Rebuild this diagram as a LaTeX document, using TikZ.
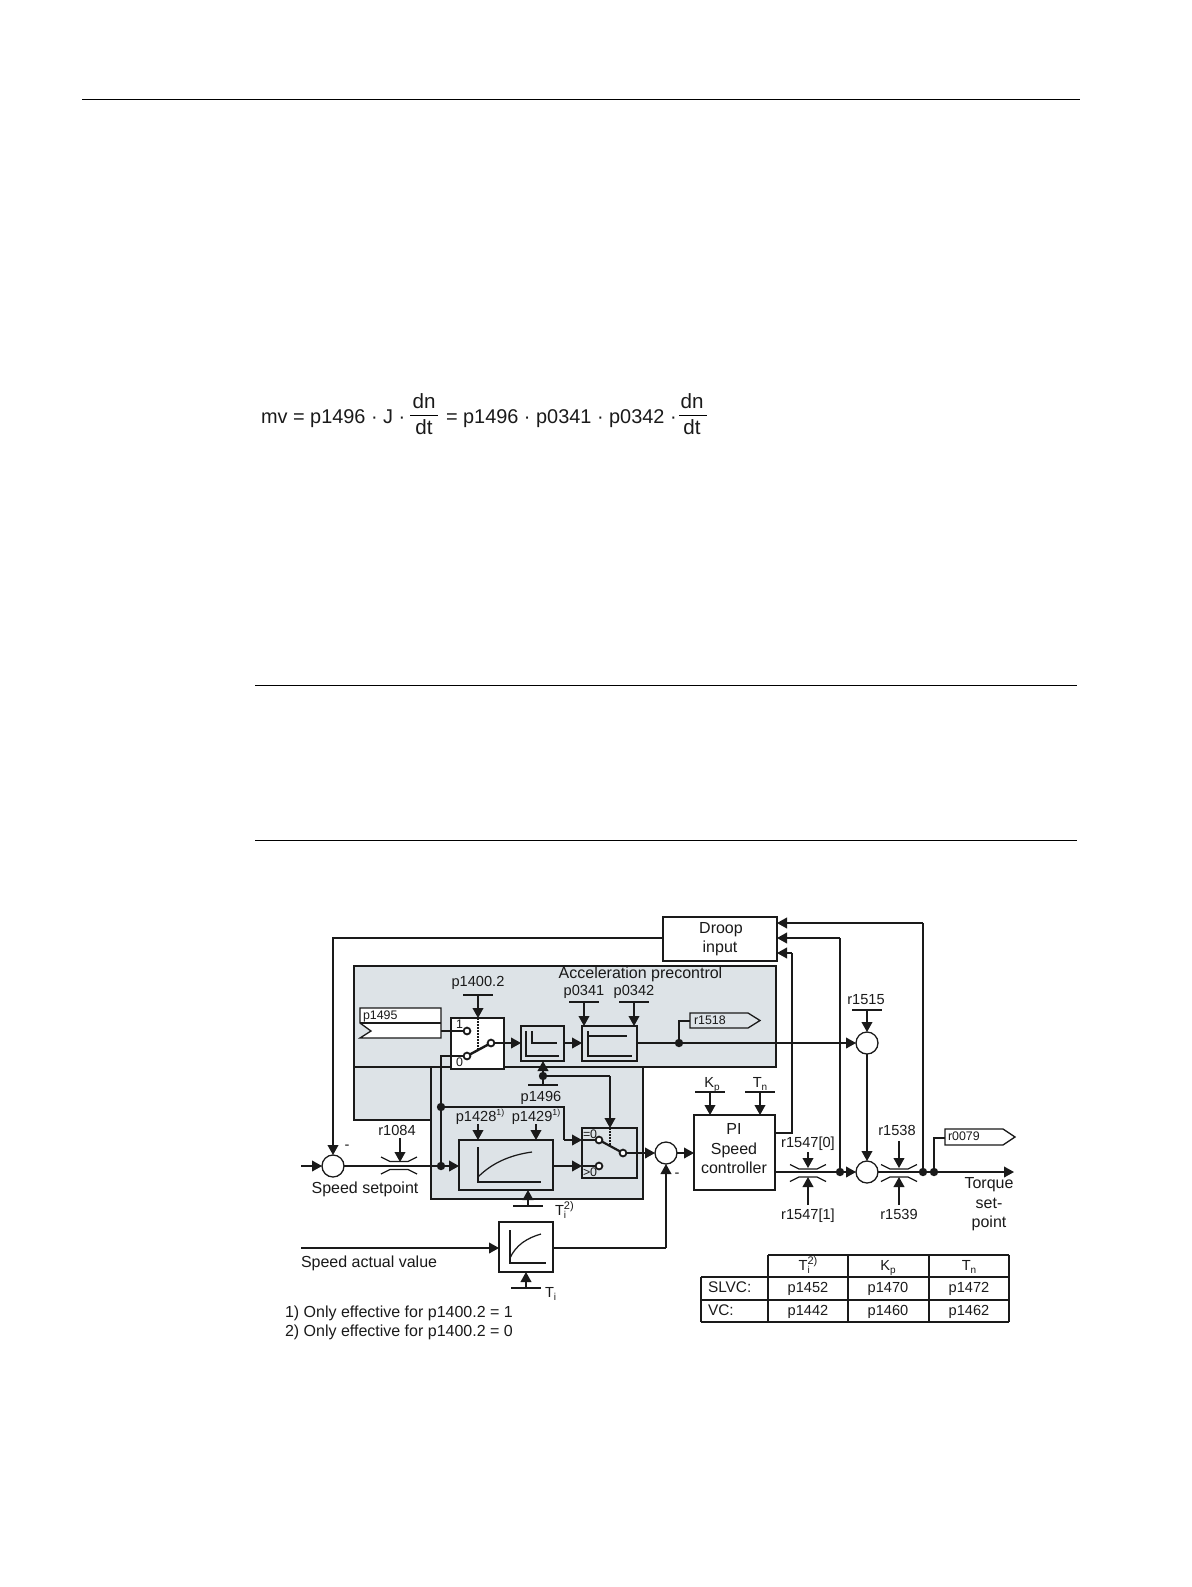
\documentclass[tikz,border=0pt]{standalone}
\usepackage{fontspec}
\setmainfont{Liberation Sans}
\usetikzlibrary{arrows.meta}
\definecolor{panel}{HTML}{DDE3E7}
\definecolor{ink}{HTML}{1A1A1A}
\tikzset{
  line/.style={draw=ink,line width=.65pt},
  arr/.style={line,-{Triangle[length=5pt,width=5.4pt]}},
  bxs/.style={line,inner sep=0pt,outer sep=0pt,rectangle},
  sumc/.style={line,circle,fill=white,inner sep=0pt,outer sep=0pt,minimum size=11pt},
  contact/.style={line,circle,fill=white,inner sep=0pt,outer sep=0pt,minimum size=3.4pt,line width=.9pt},
  junction/.style={circle,fill=ink,inner sep=0pt,outer sep=0pt,minimum size=4.2pt},
  lab/.style={anchor=base,inner sep=0pt,outer sep=0pt,text=ink,font=\fontsize{7.3}{8.6}\selectfont},
  labw/.style={lab,anchor=base west},
  word/.style={lab,font=\fontsize{8}{9}\selectfont},
  wordw/.style={labw,font=\fontsize{8}{9}\selectfont},
  small/.style={labw,font=\fontsize{6.2}{7.4}\selectfont},
  eqn/.style={labw,font=\fontsize{9.95}{12}\selectfont},
  eqc/.style={lab,font=\fontsize{10.3}{12}\selectfont},
  ruleline/.style={draw=black,line width=.42pt},
  graphline/.style={line,line width=.62pt},
  dots/.style={draw=ink,line width=1.4pt,dash pattern=on .9pt off .6pt},
}
\newcommand{\bx}[6][]{\node[bxs,#1,minimum width={(#5-#3)*0.5pt},minimum height={(#6-#4)*0.5pt}] (#2) at ({(#3+#5)/2},{(#4+#6)/2}) {};}
\newcommand{\throttle}[2]{%
  \draw[line] ({#1-18},{#2-8}) -- ({#1-9},{#2-3.5}) -- ({#1+9},{#2-3.5}) -- ({#1+18},{#2-8});
  \draw[line] ({#1-18},{#2+9}) -- ({#1-9},{#2+4.5}) -- ({#1+9},{#2+4.5}) -- ({#1+18},{#2+9});}
\newcommand{\stub}[3]{\coordinate (#1) at (#2,#3); \draw[line] ({#2-15},#3) -- ({#2+15},#3);}
\newcommand{\tisup}{T\rlap{\raisebox{-1.5pt}{\fontsize{5}{5}\selectfont i}}\raisebox{2.6pt}{\fontsize{5.5}{5}\selectfont 2)}}
\newcommand{\subs}[1]{\raisebox{-1.5pt}{\fontsize{5}{5}\selectfont #1}}
\newcommand{\fnm}[1]{\raisebox{2.6pt}{\fontsize{4.4}{5}\selectfont #1}}
\begin{document}
\begin{tikzpicture}[x=0.5pt,y=-0.5pt]
\useasboundingbox (0,0) rectangle (1191,1587);
\fill[white] (0,0) rectangle (1191,1587);

% page rules
\coordinate (r1a) at (82,99.5); \coordinate (r1b) at (1080,99.5);
\coordinate (r2a) at (255,685.5); \coordinate (r2b) at (1077,685.5);
\coordinate (r3a) at (255,840.5); \coordinate (r3b) at (1077,840.5);
\draw[ruleline] (r1a) -- (r1b);
\draw[ruleline] (r2a) -- (r2b);
\draw[ruleline] (r3a) -- (r3b);

% formula
\node[eqn] (eq1) at (261,423) {mv = p1496 · J ·};
\node[eqc] (eq2) at (424,408) {dn};
\node[eqc] (eq3) at (424,434) {dt};
\coordinate (fa1) at (410,415); \coordinate (fb1) at (438,415);
\draw[ruleline] (fa1) -- (fb1);
\node[eqn] (eq4) at (446,423) {= p1496 · p0341 · p0342 ·};
\node[eqc] (eq5) at (692,408) {dn};
\node[eqc] (eq6) at (692,434) {dt};
\coordinate (fa2) at (679,415); \coordinate (fb2) at (707,415);
\draw[ruleline] (fa2) -- (fb2);

% grey panels
\bx[fill=panel]{lowL}{354}{1067}{431}{1120}
\bx[fill=panel]{lowR}{431}{1067}{643}{1199}
\bx[fill=panel]{top}{354}{966}{776}{1067}

% boxes
\bx[fill=white]{droop}{663}{917}{777}{961}
\bx[fill=white]{sw1}{451}{1018}{504}{1069}
\bx{lim}{521}{1026}{564}{1061}
\bx{acc}{582}{1026}{637}{1061}
\bx{ramp}{459}{1140}{553}{1190}
\bx{sw2}{582}{1128}{637}{1178}
\bx[fill=white]{pi}{694}{1115}{775}{1190}
\bx[fill=white]{filt}{499}{1222}{553}{1272}

% sum points
\node[sumc] (s1) at (333,1166) {};
\node[sumc] (s2) at (666,1153) {};
\node[sumc] (s3) at (867,1043) {};
\node[sumc] (s4) at (867,1172) {};

% junctions
\node[junction] (j1) at (441,1166) {};
\node[junction] (j2) at (441,1107) {};
\node[junction] (j3) at (543,1076) {};
\node[junction] (j4) at (679,1043) {};
\node[junction] (j5) at (840,1172) {};
\node[junction] (j6) at (923,1172) {};
\node[junction] (j7) at (934,1172) {};

% p1495 connector
\coordinate (p95a) at (360,1008); \coordinate (p95b) at (441,1008);
\coordinate (p95c) at (441,1038); \coordinate (p95d) at (360,1038);
\coordinate (p95e) at (371,1031); \coordinate (p95f) at (360,1023);
\coordinate (p95g) at (441,1023); \coordinate (p95o) at (441,1031);
\draw[line,fill=white] (p95a) -- (p95b) -- (p95c) -- (p95d) -- (p95e) -- (p95f) -- cycle;
\draw[line] (p95f) -- (p95g);
\node[small] (tp95) at (363,1019) {p1495};

% switch 1
\node[contact] (c11) at (467,1031) {};
\node[contact] (c10) at (467,1056) {};
\node[contact] (c1o) at (491,1043) {};
\draw[line,line width=1.2pt] (c10) -- (c1o);
\coordinate (d1a) at (478,1018); \coordinate (d1b) at (478,1049);
\draw[dots] (d1a) -- (d1b);
\node[small] (t1a) at (456,1028) {1};
\node[small] (t1b) at (456,1066) {0};
\stub{p14b}{478}{995}
\draw[arr] (p14b) -- (sw1.north -| p14b);
\node[lab] (tp14) at (478,986) {p1400.2};
\draw[line] (p95o) -- (c11);
\coordinate (k1) at (441,1056);
\draw[line,line width=.85pt] (j1) -- (k1) -- (c10);
\draw[arr] (c1o) -- (lim.west |- c1o);

% limiter graph
\draw[graphline] (526,1031) -- (526,1056) -- (559,1056);
\draw[graphline] (532,1031) -- (532,1043) -- (557,1043);
\draw[arr] (lim.east |- c1o) -- (acc.west |- c1o);
% acc graph
\draw[graphline] (588,1031) -- (588,1056) -- (632,1056);
\draw[graphline] (588,1036) -- (627,1036);

% p0341 p0342
\stub{p41b}{584}{1002}
\stub{p42b}{634}{1002}
\draw[arr] (p41b) -- (acc.north -| p41b);
\draw[arr] (p42b) -- (acc.north -| p42b);
\node[lab] (tp41) at (584,995) {p0341};
\node[lab] (tp42) at (634,995) {p0342};
\node[word] (tacc) at (640.5,978) {Acceleration precontrol};

% acc output
\draw[line] (acc.east |- c1o) -- (j4);
\draw[arr] (j4) -- (s3);
\coordinate (k18) at (679,1021); \coordinate (i18) at (690,1021);
\draw[line] (j4) -- (k18) -- (i18);
\coordinate (t18a) at (690,1013); \coordinate (t18b) at (748,1013); \coordinate (t18c) at (760,1020.5);
\coordinate (t18d) at (748,1028); \coordinate (t18e) at (690,1028);
\draw[line] (t18a) -- (t18b) -- (t18c) -- (t18d) -- (t18e) -- cycle;
\node[small] (t18) at (694,1024) {r1518};

% p1496
\stub{p96b}{543}{1085}
\draw[line] (j3) -- (p96b);
\draw[arr] (j3) -- (lim.south -| j3);
\node[lab] (tp96) at (541,1101) {p1496};
\coordinate (k96) at (610,1076);
\draw[line] (j3) -- (k96);
\draw[arr] (k96) -- (sw2.north -| k96);

% input chain
\coordinate (in1) at (301,1166);
\draw[arr] (in1) -- (s1);
\draw[line] (s1) -- (j1);
\throttle{399}{1165}
\coordinate (r84a) at (400,1138); \coordinate (r84b) at (400,1162);
\draw[arr] (r84a) -- (r84b);
\node[lab] (tr84) at (397,1135) {r1084};
\node[word] (tsp) at (365,1193) {Speed setpoint};
\node[lab] (tm1) at (347,1149) {-};
\coordinate (k0) at (333,938);
\draw[arr] (droop.west |- k0) -- (k0) -- (s1);
\draw[arr] (j1) -- (ramp.west |- j1);
\draw[line,line width=.85pt] (j1) -- (j2);

% ramp
\draw[graphline] (478,1147) -- (478,1182) -- (541,1182);
\draw[graphline] (478,1177) .. controls (492,1163) and (510,1155) .. (532,1152);
\stub{tirb}{528}{1206}
\draw[arr] (tirb) -- (ramp.south -| tirb);
\node[labw] (tti2) at (555,1215) {\tisup};
\coordinate (p28) at (478,1124); \coordinate (p29) at (536,1124);
\draw[arr] (p28) -- (ramp.north -| p28);
\draw[arr] (p29) -- (ramp.north -| p29);
\node[lab] (tp28) at (480,1121) {p1428\fnm{1)}};
\node[lab] (tp29) at (536,1121) {p1429\fnm{1)}};

% switch 2
\node[contact] (c20) at (599,1140) {};
\node[contact] (c2g) at (599,1166) {};
\node[contact] (c2o) at (623,1153) {};
\draw[line,line width=1.1pt] (c20) -- (c2o);
\coordinate (d2a) at (610,1128); \coordinate (d2b) at (610,1147);
\draw[dots] (d2a) -- (d2b);
\node[small] (t20) at (583,1138.5) {=0};
\node[small] (t2g) at (583,1176.5) {>0};
\coordinate (k21) at (564,1107); \coordinate (k22) at (564,1140);
\draw[line] (j2) -- (k21) -- (k22);
\draw[arr] (k22) -- (sw2.west |- k22);
\draw[line] (sw2.west |- k22) -- (c20);
\coordinate (ro) at (553,1166);
\draw[arr] (ro) -- (sw2.west |- ro);
\draw[line] (sw2.west |- ro) -- (c2g);
\draw[arr] (c2o) -- (s2);

% PI
\draw[arr] (s2) -- (pi.west |- s2);
\node[word] (tpi1) at (734,1134) {PI};
\node[word] (tpi2) at (734,1154) {Speed};
\node[word] (tpi3) at (734,1173) {controller};
\stub{kpb}{710}{1092}
\stub{tnb}{760}{1092}
\draw[arr] (kpb) -- (pi.north -| kpb);
\draw[arr] (tnb) -- (pi.north -| tnb);
\node[lab] (tkp) at (712,1087) {K\subs{p}};
\node[lab] (ttn) at (760,1087) {T\subs{n}};

% droop
\node[word] (td1) at (721,933) {Droop};
\node[word] (td2) at (720,952) {input};
\coordinate (k31) at (792,1133); \coordinate (k32) at (792,953);
\draw[line] (pi.east |- k31) -- (k31) -- (k32);
\draw[arr] (k32) -- (droop.east |- k32);
\coordinate (k41) at (840,938);
\draw[line] (j5) -- (k41);
\draw[arr] (k41) -- (droop.east |- k41);
\coordinate (k51) at (923,923);
\draw[line] (j6) -- (k51);
\draw[arr] (k51) -- (droop.east |- k51);

% after PI
\draw[line] (pi.east |- s4) -- (j5);
\draw[arr] (j5) -- (s4);
\throttle{808}{1172.5}
\coordinate (a1) at (808,1152); \coordinate (a2) at (808,1168);
\coordinate (a3) at (808,1205); \coordinate (a4) at (808,1177);
\draw[arr] (a1) -- (a2);
\draw[arr] (a3) -- (a4);
\node[lab] (tr0) at (808,1147) {r1547[0]};
\node[lab] (tr1) at (808,1219) {r1547[1]};
\throttle{899}{1172.5}
\coordinate (b1) at (899,1141); \coordinate (b2) at (899,1168);
\coordinate (b3) at (899,1205); \coordinate (b4) at (899,1177);
\draw[arr] (b1) -- (b2);
\draw[arr] (b3) -- (b4);
\node[lab] (tr38) at (897,1135) {r1538};
\node[lab] (tr39) at (899,1219) {r1539};

% r1515
\stub{r15b}{867}{1010}
\draw[arr] (r15b) -- (s3);
\node[lab] (tr15) at (866,1004) {r1515};
\draw[arr] (s3) -- (s4);

% torque out
\draw[line] (s4) -- (j6);
\draw[line] (j6) -- (j7);
\coordinate (outr) at (1014,1172);
\draw[arr] (j7) -- (outr);
\coordinate (k79) at (934,1138); \coordinate (i79) at (945,1138);
\draw[line] (j7) -- (k79) -- (i79);
\coordinate (t79a) at (945,1129); \coordinate (t79b) at (1003,1129); \coordinate (t79c) at (1015,1137);
\coordinate (t79d) at (1003,1145); \coordinate (t79e) at (945,1145);
\draw[line,fill=white] (t79a) -- (t79b) -- (t79c) -- (t79d) -- (t79e) -- cycle;
\node[small] (t79) at (948,1140) {r0079};
\node[word] (tq1) at (989,1188) {Torque};
\node[word] (tq2) at (989,1208) {set-};
\node[word] (tq3) at (989,1227) {point};

% actual value
\coordinate (av) at (301,1248);
\draw[arr] (av) -- (filt.west |- av);
\node[wordw] (tav) at (301,1267) {Speed actual value};
\draw[graphline] (510,1230) -- (510,1263) -- (546,1263);
\draw[graphline] (510,1258) .. controls (516,1245) and (527,1238) .. (541,1234);
\coordinate (k61) at (666,1248);
\draw[line] (filt.east |- k61) -- (k61);
\draw[arr] (k61) -- (s2);
\node[lab] (tm2) at (677,1177) {-};
\stub{tib}{526}{1288}
\draw[arr] (tib) -- (filt.south -| tib);
\node[labw] (tti) at (545,1297) {T\subs{i}};

% notes
\node[wordw] (n1) at (285,1317) {1) Only effective for p1400.2 = 1};
\node[wordw] (n2) at (285,1336) {2) Only effective for p1400.2 = 0};

% table
\coordinate (ta) at (768,1255); \coordinate (tb) at (1009,1255);
\coordinate (tc) at (701,1277); \coordinate (td) at (1009,1277);
\coordinate (te) at (701,1300); \coordinate (tf) at (1009,1300);
\coordinate (tg) at (701,1322); \coordinate (th) at (1009,1322);
\coordinate (tu1) at (848,1255); \coordinate (tv1) at (848,1322);
\coordinate (tu2) at (929,1255); \coordinate (tv2) at (929,1322);
\coordinate (tu0) at (768,1322);
\draw[line] (ta) -- (tb);
\draw[line] (tc) -- (td);
\draw[line] (te) -- (tf);
\draw[line] (tg) -- (th);
\draw[line] (tc) -- (tg);
\draw[line] (ta) -- (tu0);
\draw[line] (tu1) -- (tv1);
\draw[line] (tu2) -- (tv2);
\draw[line] (tb) -- (th);
\node[lab] (c01) at (808,1270) {\tisup};
\node[lab] (c02) at (888,1270) {K\subs{p}};
\node[lab] (c03) at (969,1270) {T\subs{n}};
\node[wordw,font=\fontsize{7.7}{9}\selectfont] (c10t) at (708,1292) {SLVC:};
\node[lab] (c11t) at (808,1292) {p1452};
\node[lab] (c12t) at (888,1292) {p1470};
\node[lab] (c13t) at (969,1292) {p1472};
\node[wordw,font=\fontsize{7.7}{9}\selectfont] (c20t) at (708,1315) {VC:};
\node[lab] (c21t) at (808,1315) {p1442};
\node[lab] (c22t) at (888,1315) {p1460};
\node[lab] (c23t) at (969,1315) {p1462};
\end{tikzpicture}
\end{document}
